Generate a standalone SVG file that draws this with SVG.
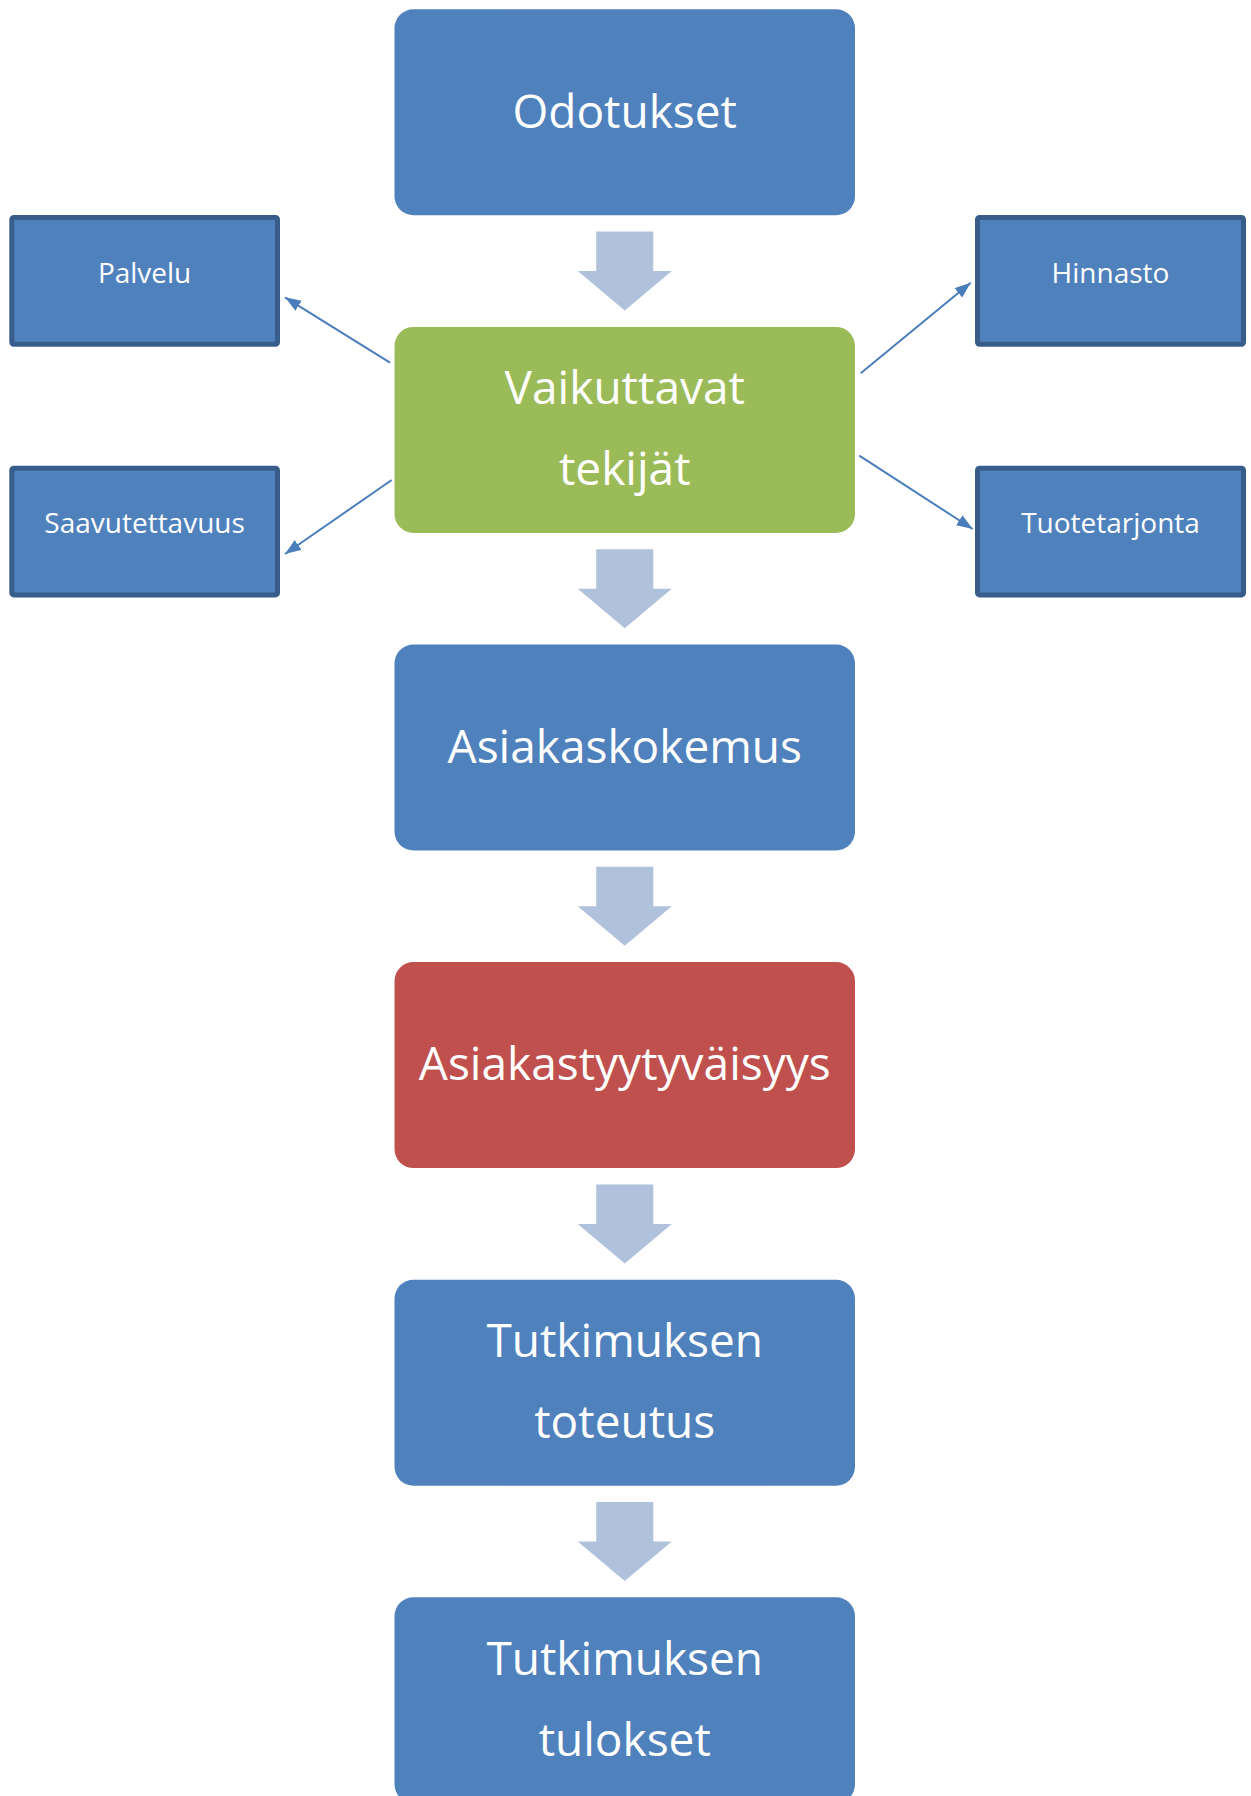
<svg xmlns="http://www.w3.org/2000/svg" width="1251" height="1796" viewBox="0 0 1251 1796">
<style>
.main{stroke:none}
.blue{fill:#4F81BD}
.green{fill:#9BBB59}
.red{fill:#C0504D}
.side{fill:#4F81BD;stroke:#385D8A;stroke-width:5}
.flow{fill:#B0C1DC}
.big{font-family:"Open Sans","Noto Sans",sans-serif;font-size:46px;fill:#FFFFFF;text-anchor:middle}
.small{font-family:"Open Sans","Noto Sans",sans-serif;font-size:28px;fill:#FFFFFF;text-anchor:middle}
.conn{stroke:#4A7EBB;stroke-width:2;fill:none;marker-end:url(#ah)}
</style>
<defs>
<marker id="ah" markerUnits="userSpaceOnUse" markerWidth="18" markerHeight="14" refX="16" refY="6" orient="auto">
<path d="M0,0 L16,6 L0,12 z" fill="#4A7EBB"/>
</marker>
<path id="blk" d="M-28.5,0 H28.5 V39.5 H47 L0,79 L-47,39.5 H-28.5 Z"/>
</defs>
<rect width="1251" height="1796" fill="#FFFFFF"/>

<g id="flow-arrows">
<use href="#blk" class="flow" x="624.75" y="231.5"/>
<use href="#blk" class="flow" x="624.75" y="549.2"/>
<use href="#blk" class="flow" x="624.75" y="866.8"/>
<use href="#blk" class="flow" x="624.75" y="1184.4"/>
<use href="#blk" class="flow" x="624.75" y="1502"/>
</g>

<g id="connectors">
<line class="conn" x1="390" y1="362.7" x2="285" y2="297.3"/>
<line class="conn" x1="391.7" y1="480" x2="285" y2="554"/>
<line class="conn" x1="860.7" y1="373.3" x2="970.7" y2="282.7"/>
<line class="conn" x1="859.3" y1="455.7" x2="972.7" y2="529"/>
</g>

<g id="odotukset">
<rect class="main blue" x="394.5" y="9.3" width="460.5" height="206" rx="19"/>
<text class="big" x="624.75" y="127.7">Odotukset</text>
</g>
<g id="vaikuttavat">
<rect class="main green" x="394.5" y="326.9" width="460.5" height="206" rx="19"/>
<text class="big" x="624.75" y="404">Vaikuttavat</text>
<text class="big" x="624.75" y="485">tekijät</text>
</g>
<g id="asiakaskokemus">
<rect class="main blue" x="394.5" y="644.5" width="460.5" height="206" rx="19"/>
<text class="big" x="624.75" y="762.7">Asiakaskokemus</text>
</g>
<g id="asiakastyytyvaisyys">
<rect class="main red" x="394.5" y="962.1" width="460.5" height="206" rx="19"/>
<text class="big" x="624.75" y="1080">Asiakastyytyväisyys</text>
</g>
<g id="toteutus">
<rect class="main blue" x="394.5" y="1279.7" width="460.5" height="206" rx="19"/>
<text class="big" x="624.75" y="1357.3">Tutkimuksen</text>
<text class="big" x="624.75" y="1438.3">toteutus</text>
</g>
<g id="tulokset">
<rect class="main blue" x="394.5" y="1597.3" width="460.5" height="206" rx="19"/>
<text class="big" x="624.75" y="1675">Tutkimuksen</text>
<text class="big" x="624.75" y="1756">tulokset</text>
</g>

<g id="palvelu">
<rect class="side" x="11.8" y="217.5" width="265.7" height="126.7" rx="2"/>
<text class="small" x="144.6" y="283.3">Palvelu</text>
</g>
<g id="saavutettavuus">
<rect class="side" x="11.8" y="468.2" width="265.7" height="126.7" rx="2"/>
<text class="small" x="144.6" y="533.3">Saavutettavuus</text>
</g>
<g id="hinnasto">
<rect class="side" x="977.5" y="217.5" width="266" height="126.7" rx="2"/>
<text class="small" x="1110.5" y="283.3">Hinnasto</text>
</g>
<g id="tuotetarjonta">
<rect class="side" x="977.5" y="468.2" width="266" height="126.7" rx="2"/>
<text class="small" x="1110.5" y="533.3">Tuotetarjonta</text>
</g>
</svg>
